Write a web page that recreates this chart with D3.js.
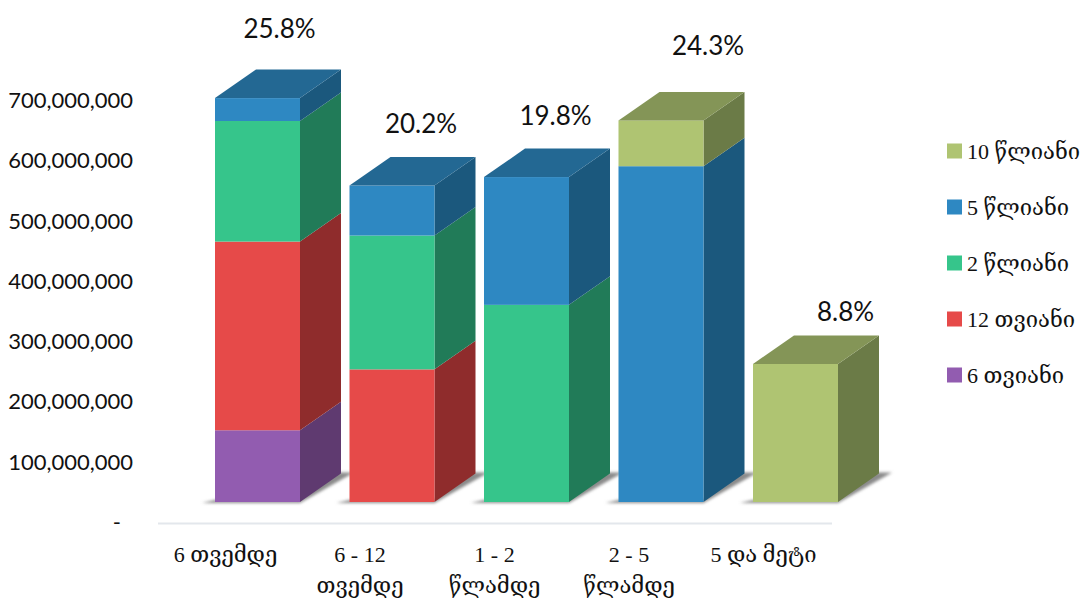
<!DOCTYPE html>
<html>
<head>
<meta charset="utf-8">
<script src="https://cdn.jsdelivr.net/npm/d3@7"></script>
<style>
  html, body { margin: 0; padding: 0; background: #fff; }
  svg { display: block; }
  .num { font-family: Lato, "Open Sans", sans-serif; fill: #111; }
  .geo { font-family: "Liberation Serif", "DejaVu Serif", "DejaVu Sans", serif; fill: #111; }
</style>
</head>
<body>
<div id="chart"></div>
<script>
// data
var categories = [["6 თვემდე"], ["6 - 12", "თვემდე"], ["1 - 2", "წლამდე"], ["2 - 5", "წლამდე"], ["5 და მეტი"]];
var seriesNames = ["6 თვიანი", "12 თვიანი", "2 წლიანი", "5 წლიანი", "10 წლიანი"];
var sixMonth   = [119, 0, 0, 0, 0];
var twelveMonth = [313, 220, 0, 0, 0];
var twoYear    = [200, 222, 327, 0, 0];
var fiveYear   = [38, 83, 212, 557, 0];
var tenYear    = [0, 0, 0, 76, 229];
var shares = ["25.8%", "20.2%", "19.8%", "24.3%", "8.8%"];
var yTicks = [0, 100, 200, 300, 400, 500, 600, 700];

var allSeries = [sixMonth, twelveMonth, twoYear, fiveYear, tenYear];

// front, top and side shades per series
var front = ["#925cb0", "#e64a49", "#36c58b", "#2e88c2", "#afc472"];
var side  = ["#5f3a70", "#8f2c2c", "#217b58", "#1b587d", "#6b7b47"];
var top_  = ["#6f4686", "#a83636", "#298f67", "#236893", "#849557"];

var width = 1083, height = 601;
var depthX = 41, depthY = 28.5;

var svg = d3.select("#chart").append("svg")
  .attr("width", width)
  .attr("height", height);

var defs = svg.append("defs");
defs.append("filter").attr("id", "blur")
  .attr("x", "-20%").attr("y", "-50%").attr("width", "140%").attr("height", "200%")
  .append("feGaussianBlur").attr("stdDeviation", 1.6);

var x = d3.scaleBand()
  .domain(d3.range(categories.length))
  .range([147.75, 905.25])
  .paddingInner(0.368)
  .paddingOuter(0.5);

var y = d3.scaleLinear()
  .domain([0, 700])
  .range([502, 80]);

// y axis sits lower than the bar fronts, as in a 3d chart
var yAxis = d3.axisLeft(y)
  .tickValues(yTicks)
  .tickSize(0)
  .tickPadding(0)
  .tickFormat(function (d) { return d === 0 ? "-" : d3.format(",")(d * 1000000); });

var axisG = svg.append("g")
  .attr("transform", "translate(133,20.5)")
  .call(yAxis);
axisG.select(".domain").remove();
axisG.selectAll("text")
  .attr("class", "num")
  .style("font-size", "22px")
  .attr("font-family", null);
axisG.selectAll(".tick").filter(function (d) { return d === 0; }).select("text")
  .attr("dx", -12);

// floor line
svg.append("line")
  .attr("x1", 158).attr("x2", 832)
  .attr("y1", 523.5).attr("y2", 523.5)
  .attr("stroke", "#e3e7ec")
  .attr("stroke-width", 2);

function pts(a) { return a.map(function (p) { return p.join(","); }).join(" "); }

var bars = svg.append("g").selectAll("g")
  .data(categories)
  .enter().append("g");

bars.each(function (c, i) {
  var g = d3.select(this);
  var x0 = x(i), x1 = x(i) + x.bandwidth();

  // soft floor shadow
  g.append("polygon")
    .attr("points", pts([[x0 - 13, y(0) + 1], [x1, y(0) + 1], [x1 + depthX + 13, y(0) - depthY - 1], [x1 + depthX - 5, y(0) - depthY - 1], [x1, y(0) - 2], [x0, y(0) - 2]]))
    .attr("fill", "#8a8a8a")
    .attr("filter", "url(#blur)");

  var base = 0, lastSeries = 0;
  allSeries.forEach(function (s, k) {
    if (!s[i]) return;
    var yb = y(base), yt = y(base + s[i]);
    g.append("polygon")
      .attr("points", pts([[x1, yb], [x1 + depthX, yb - depthY], [x1 + depthX, yt - depthY], [x1, yt]]))
      .attr("fill", side[k]);
    g.append("rect")
      .attr("x", x0).attr("y", yt)
      .attr("width", x.bandwidth()).attr("height", yb - yt)
      .attr("fill", front[k]);
    base += s[i];
    lastSeries = k;
  });

  var yTop = y(base);
  g.append("polygon")
    .attr("points", pts([[x0, yTop], [x0 + depthX, yTop - depthY], [x1 + depthX, yTop - depthY], [x1, yTop]]))
    .attr("fill", top_[lastSeries]);
});

// percent labels, nudges tuned by eye
var pctDx = [22, 29, 29, 47, 50];
var pctDy = [70, 63, 62, 75, 53];
svg.append("g").selectAll("text")
  .data(shares)
  .enter().append("text")
    .attr("class", "num")
    .attr("text-anchor", "middle")
    .attr("dominant-baseline", "central")
    .style("font-size", "26px")
    .attr("x", function (d, i) { return x(i) + x.bandwidth() / 2 + pctDx[i]; })
    .attr("y", function (d, i) {
      var total = d3.sum(allSeries, function (s) { return s[i]; });
      return y(total) - pctDy[i];
    })
    .text(function (d) { return d; });

// category labels
var catDx = [-32, -32, -32, -32, -32];
var catG = svg.append("g").selectAll("text")
  .data(categories)
  .enter().append("text")
    .attr("class", "geo")
    .attr("text-anchor", "middle")
    .style("font-size", "22px")
    .attr("y", 562);
catG.selectAll("tspan")
  .data(function (d, i) { return d.map(function (t) { return { t: t, i: i }; }); })
  .enter().append("tspan")
    .attr("x", function (d) { return x(d.i) + x.bandwidth() / 2 + catDx[d.i]; })
    .attr("dy", function (d, j) { return j ? 31 : 0; })
    .text(function (d) { return d.t; });

// legend, top to bottom is last series first
var legendScale = d3.scalePoint()
  .domain(seriesNames.slice().reverse())
  .range([151, 375]);

var legend = svg.append("g").selectAll("g")
  .data(seriesNames)
  .enter().append("g")
    .attr("transform", function (d) { return "translate(947," + legendScale(d) + ")"; });
legend.append("rect")
  .attr("x", 0).attr("y", -7.5)
  .attr("width", 15).attr("height", 15)
  .attr("fill", function (d, i) { return front[i]; });
legend.append("text")
  .attr("class", "geo")
  .attr("x", 20).attr("y", 8)
  .style("font-size", "22px")
  .text(function (d) { return d; });
</script>
</body>
</html>
